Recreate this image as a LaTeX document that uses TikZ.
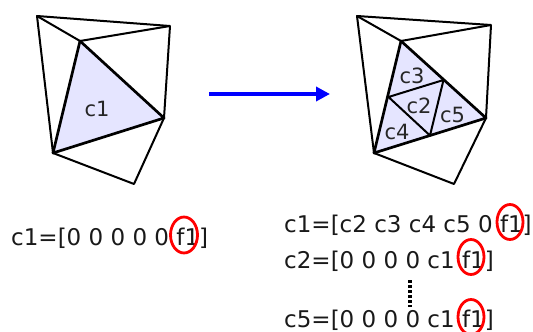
\documentclass[tikz,border=0pt]{standalone}
\usepackage{fontspec}
\usetikzlibrary{arrows.meta}
\setmainfont{DejaVu Sans}
\tikzset{
  edge/.style={line width=2pt, line join=round},
  bold edge/.style={line width=2.7pt, line join=round},
  cell/.style={fill=blue!10!white, draw=none},
  lab/.style={font=\fontsize{21}{21}\selectfont, text=black!85, inner sep=0pt},
  row/.style={font=\fontsize{23}{23}\selectfont, text=black!90, inner sep=0pt, anchor=base west},
  ring/.style={draw=red, line width=2.8pt}
}
\begin{document}
\begin{tikzpicture}[x=1pt, y=-1pt, >=stealth]
  \useasboundingbox (0,0) rectangle (533,332);
  \coordinate (A) at (37,16);
  \coordinate (B) at (170,26);
  \coordinate (C) at (80,41);
  \coordinate (D) at (164,118);
  \coordinate (E) at (53,153);
  \coordinate (F) at (134,184);
  \fill[cell] (C) -- (D) -- (E) -- cycle;
  \draw[edge] (A) -- (B) -- (D) -- (F) -- (E) -- cycle;
  \draw[edge] (A) -- (C) -- (B);
  \draw[bold edge] (C) -- (D) -- (E) -- cycle;
  \node[lab] (c1) at (97,109) {c1};
  \coordinate (P) at (357,16);
  \coordinate (Q) at (491,25);
  \coordinate (R) at (401,41);
  \coordinate (S) at (486,118);
  \coordinate (T) at (374,153);
  \coordinate (U) at (454,184);
  \coordinate (RS) at (443.5,80);
  \coordinate (RT) at (388.5,97);
  \coordinate (ST) at (430,135.5);
  \fill[cell] (R) -- (S) -- (T) -- cycle;
  \draw[edge] (P) -- (Q) -- (S) -- (U) -- (T) -- cycle;
  \draw[edge] (P) -- (R) -- (Q);
  \draw[bold edge] (R) -- (S) -- (T) -- cycle;
  \draw[edge] (RS) -- (RT) -- (ST) -- cycle;
  \node[lab] (c3) at (412,76) {c3};
  \node[lab] (c2) at (419,106) {c2};
  \node[lab] (c4) at (397,132) {c4};
  \node[lab] (c5) at (452.5,115) {c5};
  \coordinate (start) at (209,94);
  \coordinate (stop) at (330,94);
  \draw[blue, line width=4.2pt, -{Stealth[length=14pt,width=14pt,inset=0pt]}] (start) -- (stop);
  \node[row] (left) at (11,245) {c1=[0 0 0 0 0 f1]};
  \node[row] (first) at (284,232) {c1=[c2 c3 c4 c5 0 f1]};
  \node[row] (second) at (284,268) {c2=[0 0 0 0 c1 f1]};
  \node[row] (last) at (284,327) {c5=[0 0 0 0 c1 f1]};
  \draw[ring] (184,235) ellipse (13.5pt and 18pt);
  \draw[ring] (510,222) ellipse (13pt and 17.5pt);
  \draw[ring] (471,257) ellipse (13pt and 17.5pt);
  \draw[ring] (471,317) ellipse (13pt and 17.5pt);
  \coordinate (dottop) at (410,280);
  \coordinate (dotend) at (410,307);
  \draw[black, line width=4pt, dash pattern=on 3pt off 2pt] (dottop) -- (dotend);
\end{tikzpicture}
\end{document}
